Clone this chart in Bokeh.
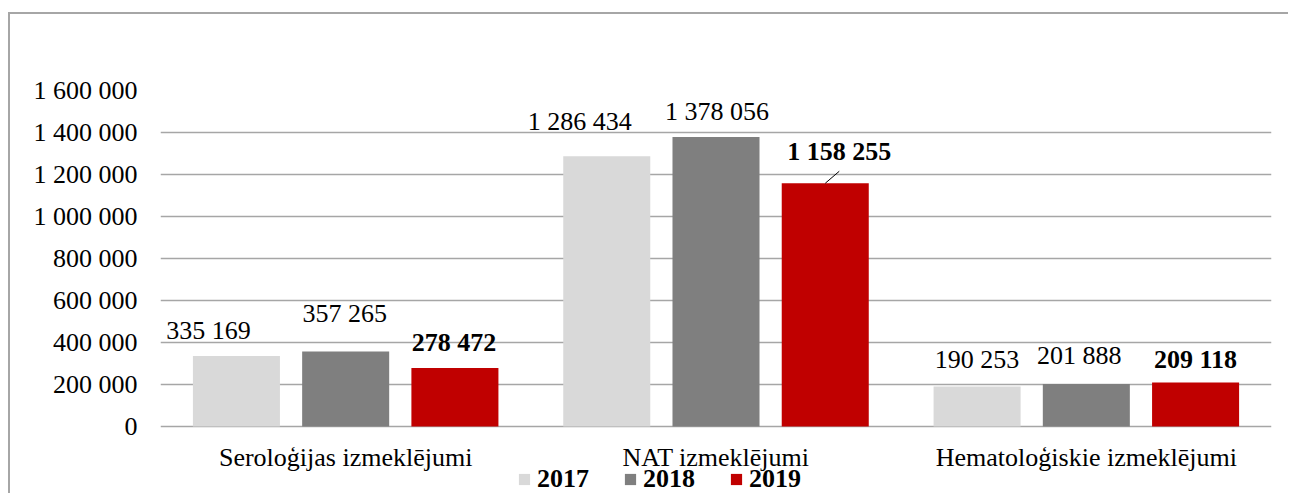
from bokeh.plotting import figure
from bokeh.models import (FactorRange, ColumnDataSource, Legend, LegendItem,
                          CustomJSTickFormatter, FixedTicker)
from bokeh.transform import dodge
from bokeh.core.properties import value
from bokeh.embed import file_html
from bokeh.resources import INLINE

categories = ["Seroloģijas izmeklējumi", "NAT izmeklējumi", "Hematoloģiskie izmeklējumi"]
years = ["2017", "2018", "2019"]
values_2017 = [335169, 1286434, 190253]
values_2018 = [357265, 1378056, 201888]
values_2019 = [278472, 1158255, 209118]
y_ticks = [0, 200000, 400000, 600000, 800000, 1000000, 1200000, 1400000, 1600000]

series = [values_2017, values_2018, values_2019]
colors = ["#d9d9d9", "#7f7f7f", "#c00000"]
offsets = [-0.295, 0.0, 0.295]
# label style: pixel shifts (dx, dy above bar top) per series/category
label_dx = [[-28, -27, 0], [-1, 1, -7], [-1, 14, 0]]
label_dy = [[17, 26, 18], [29, 17, 20], [17, 23, 14]]
label_weight = ["normal", "normal", "bold"]
BASE_FIX = 9  # svg baseline correction (px)

FONT = "Liberation Serif"
GRID = "#a6a6a6"

# layout: value axis spans 336 px for 0..1.6M; frame continues 69 px below zero
PX = 336.0
Y_MAX = 1600000
below_px = 69
y_min = -below_px * Y_MAX / PX

p = figure(x_range=FactorRange(*categories), y_range=(y_min, Y_MAX),
           width=1280, height=481, output_backend="svg", toolbar_location=None,
           min_border_left=150, min_border_right=19, min_border_top=76,
           min_border_bottom=0)
p.styles = {"border-left": "2px solid #a6a6a6", "border-top": "2px solid #a6a6a6"}
p.margin = (12, 0, 0, 8)
p.outline_line_color = None
p.background_fill_color = "white"
p.border_fill_color = "white"

legend_items = []
for i, (yr, vals) in enumerate(zip(years, series)):
    src = ColumnDataSource(dict(
        cat=categories, val=vals,
        lbl=[f"{v:,}".replace(",", " ") for v in vals],
        dx=label_dx[i], dy=[-(d + BASE_FIX) for d in label_dy[i]],
    ))
    r = p.vbar(x=dodge("cat", offsets[i], range=p.x_range), top="val", bottom=0,
               width=0.235, source=src, fill_color=colors[i], line_color=None)
    legend_items.append(LegendItem(label=yr, renderers=[r]))
    p.text(x=dodge("cat", offsets[i], range=p.x_range), y="val", text="lbl",
           x_offset="dx", y_offset="dy", source=src,
           text_font=value(FONT), text_font_size="26px", text_color="#000000",
           text_font_style=label_weight[i], text_align="center",
           text_baseline="alphabetic")

# leader line for the NAT 2019 label
px_per_val = Y_MAX / PX
nat_x = 1.5 + offsets[2]
p.segment(x0=[nat_x], y0=[values_2019[1]],
          x1=[nat_x + 14 / 370.0], y1=[values_2019[1] + 12 * px_per_val],
          line_color="#000000", line_width=1)

# category labels below the zero line
cat_src = ColumnDataSource(dict(cat=categories, y=[0] * len(categories)))
p.text(x="cat", y="y", text="cat", source=cat_src, y_offset=41 - BASE_FIX - 1,
       text_font=value(FONT), text_font_size="26px", text_color="#000000",
       text_align="center", text_baseline="alphabetic")

p.xaxis.visible = False
p.xgrid.grid_line_color = None
p.ygrid.grid_line_color = GRID
p.ygrid.grid_line_width = 1.5
p.ygrid.ticker = FixedTicker(ticks=y_ticks)

p.yaxis.ticker = FixedTicker(ticks=y_ticks)
p.yaxis.formatter = CustomJSTickFormatter(
    code="return tick.toLocaleString('en-US').replace(/,/g, ' ');")
p.yaxis.axis_line_color = None
p.yaxis.major_tick_line_color = None
p.yaxis.minor_tick_line_color = None
p.yaxis.major_tick_out = 0
p.yaxis.major_tick_in = 0
p.yaxis.major_label_standoff = 23
p.yaxis.major_label_text_font = FONT
p.yaxis.major_label_text_font_size = "26px"
p.yaxis.major_label_text_color = "#000000"

legend = Legend(items=legend_items, orientation="horizontal", location=(357, 1),
                glyph_width=14, glyph_height=14, label_standoff=6, spacing=34,
                label_height=28, padding=0, margin=0,
                label_text_font=FONT, label_text_font_size="26px",
                label_text_font_style="bold", label_text_color="#000000",
                border_line_color=None, background_fill_alpha=0)
p.add_layout(legend, "center")

open("out.html", "w").write(file_html(p, INLINE))
